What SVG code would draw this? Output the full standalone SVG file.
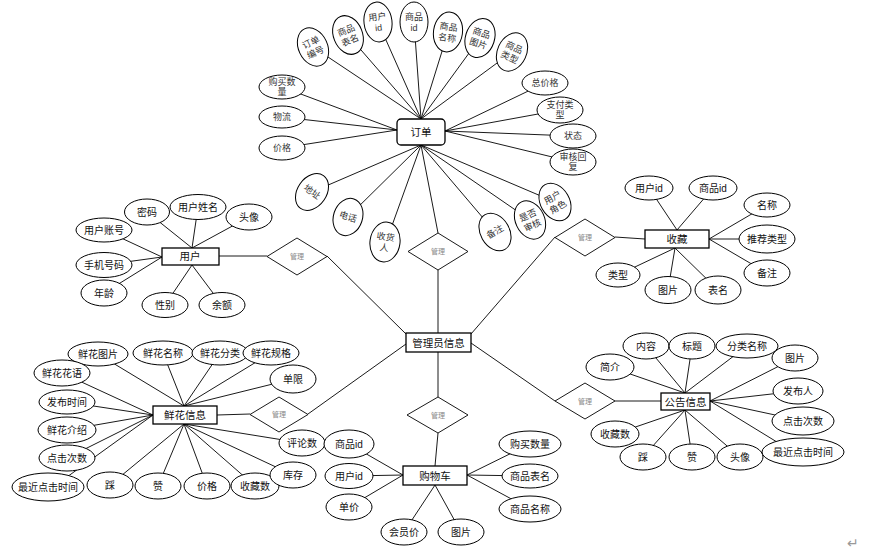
<svg xmlns="http://www.w3.org/2000/svg" width="876" height="556" viewBox="0 0 876 556">
<style>
.e{fill:#fff;stroke:#000;stroke-width:1}
.b{fill:#fff;stroke:#000;stroke-width:1.3}
.d{fill:#fff;stroke:#000;stroke-width:0.9}
.c line{stroke:#000;stroke-width:0.9}
text{font-family:"Liberation Sans","Noto Sans CJK SC",sans-serif;font-size:10px;fill:#111;text-anchor:middle}
.s{font-size:9px;fill:#333}
.m{font-size:7px;fill:#888}
.bt{font-size:10.5px}
</style>
<rect width="876" height="556" fill="#fff"/>
<g id="connectors" class="c">
<line x1="421" y1="119" x2="313" y2="47"/><line x1="421" y1="119" x2="348" y2="35"/><line x1="421" y1="119" x2="378" y2="22"/><line x1="421" y1="119" x2="414" y2="22"/><line x1="421" y1="119" x2="448" y2="32"/><line x1="421" y1="119" x2="480" y2="38"/><line x1="421" y1="119" x2="512" y2="52"/>
<line x1="397" y1="130" x2="282" y2="87"/><line x1="397" y1="130" x2="282" y2="117"/><line x1="397" y1="130" x2="282" y2="148"/>
<line x1="445" y1="131" x2="545" y2="83"/><line x1="445" y1="131" x2="560" y2="110"/><line x1="445" y1="131" x2="573" y2="136"/><line x1="445" y1="131" x2="573" y2="162"/>
<line x1="421" y1="145" x2="312" y2="192"/><line x1="421" y1="145" x2="348" y2="217"/><line x1="421" y1="145" x2="385" y2="245"/><line x1="421" y1="145" x2="438" y2="233"/><line x1="421" y1="145" x2="495" y2="232"/><line x1="421" y1="145" x2="530" y2="220"/><line x1="421" y1="145" x2="555" y2="202"/>
<line x1="438" y1="270" x2="438" y2="333"/>
<line x1="192" y1="248" x2="147" y2="212"/><line x1="192" y1="248" x2="198" y2="207"/><line x1="192" y1="248" x2="249" y2="217"/>
<line x1="162" y1="257" x2="104" y2="230"/><line x1="162" y1="257" x2="104" y2="265"/><line x1="162" y1="257" x2="104" y2="293"/>
<line x1="192" y1="265" x2="165" y2="305"/><line x1="192" y1="265" x2="222" y2="305"/>
<line x1="219" y1="256" x2="267" y2="256"/><line x1="327" y1="256" x2="406" y2="334"/>
<line x1="677" y1="230" x2="649" y2="188"/><line x1="677" y1="230" x2="713" y2="188"/>
<line x1="709" y1="239" x2="767" y2="205"/><line x1="709" y1="239" x2="767" y2="239"/><line x1="709" y1="239" x2="767" y2="273"/>
<line x1="675" y1="248" x2="618" y2="275"/><line x1="675" y1="248" x2="668" y2="290"/><line x1="675" y1="248" x2="718" y2="290"/>
<line x1="615" y1="237" x2="645" y2="239"/><line x1="555" y1="237" x2="471" y2="334"/>
<line x1="184" y1="406" x2="98" y2="354"/><line x1="184" y1="406" x2="163" y2="353"/><line x1="184" y1="406" x2="220" y2="353"/><line x1="184" y1="406" x2="271" y2="353"/><line x1="184" y1="406" x2="293" y2="379"/>
<line x1="153" y1="415" x2="62" y2="373"/><line x1="153" y1="415" x2="67" y2="402"/><line x1="153" y1="415" x2="67" y2="430"/><line x1="153" y1="415" x2="67" y2="458"/><line x1="153" y1="415" x2="60" y2="482"/>
<line x1="184" y1="424" x2="110" y2="485"/><line x1="184" y1="424" x2="158" y2="486"/><line x1="184" y1="424" x2="207" y2="486"/><line x1="184" y1="424" x2="255" y2="486"/><line x1="184" y1="424" x2="293" y2="475"/><line x1="184" y1="424" x2="302" y2="443"/>
<line x1="217" y1="415" x2="250" y2="414"/><line x1="308" y1="414" x2="406" y2="344"/>
<line x1="685" y1="393" x2="646" y2="346"/><line x1="685" y1="393" x2="692" y2="346"/><line x1="685" y1="393" x2="747" y2="346"/><line x1="685" y1="393" x2="610" y2="367"/>
<line x1="710" y1="401" x2="795" y2="358"/><line x1="710" y1="401" x2="798" y2="391"/><line x1="710" y1="401" x2="803" y2="421"/><line x1="710" y1="401" x2="790" y2="450"/>
<line x1="685" y1="410" x2="615" y2="434"/><line x1="685" y1="410" x2="643" y2="457"/><line x1="685" y1="410" x2="692" y2="457"/><line x1="685" y1="410" x2="740" y2="457"/>
<line x1="615" y1="401" x2="661" y2="401"/><line x1="471" y1="343" x2="555" y2="401"/>
<line x1="438" y1="352" x2="438" y2="397"/><line x1="438" y1="433" x2="435" y2="466"/>
<line x1="403" y1="475" x2="349" y2="444"/><line x1="403" y1="475" x2="349" y2="476"/><line x1="403" y1="475" x2="349" y2="507"/>
<line x1="435" y1="485" x2="404" y2="532"/><line x1="435" y1="485" x2="461" y2="532"/>
<line x1="467" y1="475" x2="530" y2="444"/><line x1="467" y1="475" x2="530" y2="476"/><line x1="467" y1="475" x2="530" y2="509"/>
</g>

<!-- 订单 -->
<g id="order"><rect class="b" x="397" y="119" width="48" height="26" rx="4"/><text class="bt" x="421" y="136">订单</text></g>
<g id="o1" transform="translate(313,47) rotate(-25)"><ellipse class="e" rx="14.5" ry="20"/><text class="s" y="-2">订单</text><text class="s" y="9">编号</text></g>
<g id="o2" transform="translate(348,35) rotate(-22)"><ellipse class="e" rx="14.5" ry="20"/><text class="s" y="-2">商品</text><text class="s" y="9">表名</text></g>
<g id="o3" transform="translate(378,22) rotate(-7)"><ellipse class="e" rx="14" ry="20"/><text class="s" y="-2">用户</text><text class="s" y="9">id</text></g>
<g id="o4" transform="translate(414,22)"><ellipse class="e" rx="14" ry="20"/><text class="s" y="-2">商品</text><text class="s" y="9">id</text></g>
<g id="o5" transform="translate(448,32) rotate(8)"><ellipse class="e" rx="14.5" ry="20"/><text class="s" y="-2">商品</text><text class="s" y="9">名称</text></g>
<g id="o6" transform="translate(480,38) rotate(18)"><ellipse class="e" rx="14.5" ry="20"/><text class="s" y="-2">商品</text><text class="s" y="9">图片</text></g>
<g id="o7" transform="translate(512,52) rotate(25)"><ellipse class="e" rx="14.5" ry="20"/><text class="s" y="-2">商品</text><text class="s" y="9">类型</text></g>
<g id="o8"><ellipse class="e" cx="282" cy="87" rx="23" ry="12"/><text class="s" x="282" y="85">购买数</text><text class="s" x="282" y="95">量</text></g>
<g id="o9"><ellipse class="e" cx="282" cy="117" rx="23" ry="11"/><text class="s" x="282" y="120">物流</text></g>
<g id="o10"><ellipse class="e" cx="282" cy="148" rx="23" ry="12"/><text class="s" x="282" y="151">价格</text></g>
<g id="o11"><ellipse class="e" cx="545" cy="83" rx="23" ry="12"/><text class="s" x="545" y="86">总价格</text></g>
<g id="o12"><ellipse class="e" cx="560" cy="110" rx="23" ry="13"/><text class="s" x="560" y="108">支付类</text><text class="s" x="560" y="118">型</text></g>
<g id="o13"><ellipse class="e" cx="573" cy="136" rx="23" ry="12"/><text class="s" x="573" y="139">状态</text></g>
<g id="o14"><ellipse class="e" cx="573" cy="162" rx="23" ry="13"/><text class="s" x="573" y="160">审核回</text><text class="s" x="573" y="170">复</text></g>
<g id="o15" transform="translate(312,192) rotate(35)"><ellipse class="e" rx="14.5" ry="20"/><text class="s" y="3">地址</text></g>
<g id="o16" transform="translate(348,217) rotate(18)"><ellipse class="e" rx="14.5" ry="19"/><text class="s" y="3">电话</text></g>
<g id="o17" transform="translate(385,242) rotate(8)"><ellipse class="e" rx="15" ry="20"/><text class="s" y="-2">收货</text><text class="s" y="9">人</text></g>
<g id="o18" transform="translate(495,232) rotate(-30)"><ellipse class="e" rx="14.5" ry="20"/><text class="s" y="3">备注</text></g>
<g id="o19" transform="translate(530,220) rotate(-25)"><ellipse class="e" rx="14.5" ry="20"/><text class="s" y="-2">是否</text><text class="s" y="9">审核</text></g>
<g id="o20" transform="translate(555,202) rotate(-30)"><ellipse class="e" rx="14.5" ry="20"/><text class="s" y="-2">用户</text><text class="s" y="9">角色</text></g>
<g id="dm1"><polygon class="d" points="438,233 468,251.5 438,270 408,251.5"/><text class="m" x="438" y="254">管理</text></g>

<!-- 用户 -->
<g id="user"><rect class="b" x="162" y="248" width="57" height="17"/><text class="bt" x="190" y="260">用户</text></g>
<g id="u1"><ellipse class="e" cx="147" cy="212" rx="22.5" ry="13"/><text x="147" y="215.5">密码</text></g>
<g id="u2"><ellipse class="e" cx="198" cy="207" rx="28" ry="12.5"/><text x="198" y="210.5">用户姓名</text></g>
<g id="u3"><ellipse class="e" cx="249" cy="217" rx="23" ry="13"/><text x="249" y="220.5">头像</text></g>
<g id="u4"><ellipse class="e" cx="104" cy="230" rx="28" ry="12"/><text x="104" y="233.5">用户账号</text></g>
<g id="u5"><ellipse class="e" cx="104" cy="265" rx="28" ry="12.5"/><text x="104" y="268.5">手机号码</text></g>
<g id="u6"><ellipse class="e" cx="104" cy="293" rx="23" ry="13"/><text x="104" y="296.5">年龄</text></g>
<g id="u7"><ellipse class="e" cx="165" cy="305" rx="23" ry="12.5"/><text x="165" y="308.5">性别</text></g>
<g id="u8"><ellipse class="e" cx="222" cy="305" rx="23" ry="12.5"/><text x="222" y="308.5">余额</text></g>
<g id="dm2"><polygon class="d" points="297,238 327,256.5 297,275 267,256.5"/><text class="m" x="297" y="259">管理</text></g>

<!-- 收藏 -->
<g id="fav"><rect class="b" x="645" y="230" width="64" height="18"/><text class="bt" x="677" y="243">收藏</text></g>
<g id="f1"><ellipse class="e" cx="649" cy="188" rx="24" ry="12"/><text x="649" y="191.5">用户id</text></g>
<g id="f2"><ellipse class="e" cx="713" cy="188" rx="24" ry="12"/><text x="713" y="191.5">商品id</text></g>
<g id="f3"><ellipse class="e" cx="767" cy="205" rx="23" ry="12"/><text x="767" y="208.5">名称</text></g>
<g id="f4"><ellipse class="e" cx="767" cy="239" rx="28" ry="14"/><text x="767" y="242.5">推荐类型</text></g>
<g id="f5"><ellipse class="e" cx="767" cy="273" rx="23" ry="13"/><text x="767" y="276.5">备注</text></g>
<g id="f6"><ellipse class="e" cx="618" cy="275" rx="22" ry="12"/><text x="618" y="278.5">类型</text></g>
<g id="f7"><ellipse class="e" cx="668" cy="290" rx="23" ry="13.5"/><text x="668" y="293.5">图片</text></g>
<g id="f8"><ellipse class="e" cx="718" cy="290" rx="23" ry="14"/><text x="718" y="293.5">表名</text></g>
<g id="dm3"><polygon class="d" points="585,219 615,237.5 585,256 555,237.5"/><text class="m" x="585" y="240">管理</text></g>

<!-- 管理员信息 -->
<g id="admin"><rect class="b" x="406" y="333" width="65" height="19"/><text class="bt" x="438.5" y="346.5">管理员信息</text></g>
<g id="dm4"><polygon class="d" points="438,397 468,415 438,433 407,415"/><text class="m" x="438" y="417.5">管理</text></g>

<!-- 鲜花信息 -->
<g id="flower"><rect class="b" x="153" y="406" width="64" height="18"/><text class="bt" x="185" y="419">鲜花信息</text></g>
<g id="h1"><ellipse class="e" cx="98" cy="354" rx="30" ry="12"/><text x="98" y="357.5">鲜花图片</text></g>
<g id="h2"><ellipse class="e" cx="163" cy="353" rx="30" ry="12"/><text x="163" y="356.5">鲜花名称</text></g>
<g id="h3"><ellipse class="e" cx="220" cy="353" rx="28" ry="12"/><text x="220" y="356.5">鲜花分类</text></g>
<g id="h4"><ellipse class="e" cx="271" cy="353" rx="28" ry="12"/><text x="271" y="356.5">鲜花规格</text></g>
<g id="h5"><ellipse class="e" cx="62" cy="373" rx="28" ry="13"/><text x="62" y="376.5">鲜花花语</text></g>
<g id="h6"><ellipse class="e" cx="293" cy="379" rx="23" ry="14"/><text x="293" y="382.5">单限</text></g>
<g id="h7"><ellipse class="e" cx="67" cy="402" rx="28" ry="12"/><text x="67" y="405.5">发布时间</text></g>
<g id="h8"><ellipse class="e" cx="67" cy="430" rx="29" ry="13"/><text x="67" y="433.5">鲜花介绍</text></g>
<g id="h9"><ellipse class="e" cx="67" cy="458" rx="28" ry="13"/><text x="67" y="461.5">点击次数</text></g>
<g id="h10"><ellipse class="e" cx="48" cy="487" rx="36" ry="14"/><text x="48" y="490.5">最近点击时间</text></g>
<g id="h11"><ellipse class="e" cx="110" cy="485" rx="23" ry="13"/><text x="110" y="488.5">踩</text></g>
<g id="h12"><ellipse class="e" cx="158" cy="486" rx="23" ry="13"/><text x="158" y="489.5">赞</text></g>
<g id="h13"><ellipse class="e" cx="207" cy="486" rx="23" ry="13"/><text x="207" y="489.5">价格</text></g>
<g id="h14"><ellipse class="e" cx="255" cy="486" rx="24" ry="13"/><text x="255" y="489.5">收藏数</text></g>
<g id="h15"><ellipse class="e" cx="293" cy="475" rx="23" ry="13"/><text x="293" y="478.5">库存</text></g>
<g id="h16"><ellipse class="e" cx="302" cy="443" rx="23" ry="13"/><text x="302" y="446.5">评论数</text></g>
<g id="dm5"><polygon class="d" points="279,397 308,414.5 279,432 250,414.5"/><text class="m" x="279" y="417">管理</text></g>

<!-- 公告信息 -->
<g id="notice"><rect class="b" x="661" y="393" width="49" height="17"/><text class="bt" x="685.5" y="405.5">公告信息</text></g>
<g id="n1"><ellipse class="e" cx="646" cy="346" rx="23" ry="13"/><text x="646" y="349.5">内容</text></g>
<g id="n2"><ellipse class="e" cx="692" cy="346" rx="23" ry="13"/><text x="692" y="349.5">标题</text></g>
<g id="n3"><ellipse class="e" cx="747" cy="346" rx="31" ry="12"/><text x="747" y="349.5">分类名称</text></g>
<g id="n4"><ellipse class="e" cx="610" cy="367" rx="24" ry="13"/><text x="610" y="370.5">简介</text></g>
<g id="n5"><ellipse class="e" cx="795" cy="358" rx="23" ry="13"/><text x="795" y="361.5">图片</text></g>
<g id="n6"><ellipse class="e" cx="798" cy="391" rx="25" ry="13"/><text x="798" y="394.5">发布人</text></g>
<g id="n7"><ellipse class="e" cx="803" cy="421" rx="31" ry="14"/><text x="803" y="424.5">点击次数</text></g>
<g id="n8"><ellipse class="e" cx="615" cy="434" rx="24" ry="13"/><text x="615" y="437.5">收藏数</text></g>
<g id="n9"><ellipse class="e" cx="643" cy="457" rx="23" ry="13"/><text x="643" y="460.5">踩</text></g>
<g id="n10"><ellipse class="e" cx="692" cy="457" rx="23" ry="13"/><text x="692" y="460.5">赞</text></g>
<g id="n11"><ellipse class="e" cx="740" cy="457" rx="23" ry="13"/><text x="740" y="460.5">头像</text></g>
<g id="n12"><ellipse class="e" cx="803" cy="452" rx="41" ry="14"/><text x="803" y="455.5">最近点击时间</text></g>
<g id="dm6"><polygon class="d" points="585,383 615,401 585,419 555,401"/><text class="m" x="585" y="403.5">管理</text></g>

<!-- 购物车 -->
<g id="cart"><rect class="b" x="403" y="466" width="64" height="19"/><text class="bt" x="435" y="479.5">购物车</text></g>
<g id="k1"><ellipse class="e" cx="349" cy="444" rx="25" ry="14"/><text x="349" y="447.5">商品id</text></g>
<g id="k2"><ellipse class="e" cx="349" cy="476" rx="24" ry="12.5"/><text x="349" y="479.5">用户id</text></g>
<g id="k3"><ellipse class="e" cx="349" cy="507" rx="23" ry="13"/><text x="349" y="510.5">单价</text></g>
<g id="k4"><ellipse class="e" cx="404" cy="532" rx="23" ry="13"/><text x="404" y="535.5">会员价</text></g>
<g id="k5"><ellipse class="e" cx="461" cy="532" rx="23" ry="13"/><text x="461" y="535.5">图片</text></g>
<g id="k6"><ellipse class="e" cx="530" cy="444" rx="31" ry="13"/><text x="530" y="447.5">购买数量</text></g>
<g id="k7"><ellipse class="e" cx="530" cy="476" rx="28" ry="12"/><text x="530" y="479.5">商品表名</text></g>
<g id="k8"><ellipse class="e" cx="530" cy="509" rx="31" ry="13"/><text x="530" y="512.5">商品名称</text></g>

<text x="853" y="548" style="font-size:14px;fill:#999">↵</text>
</svg>
